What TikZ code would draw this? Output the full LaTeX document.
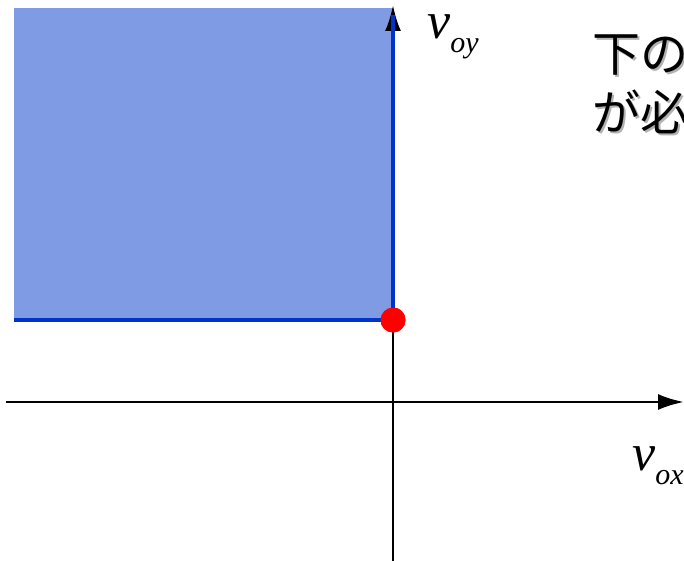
\documentclass[tikz,border=0pt]{standalone}
\usepackage{fontspec}
\setmainfont{Liberation Serif}
\newfontfamily\jpfont{Noto Sans CJK JP}
\usetikzlibrary{arrows.meta}
\definecolor{regionblue}{RGB}{127,155,227}
\definecolor{edgeblue}{RGB}{0,51,204}
\tikzset{
  vp/axis/.style={line width=1.4pt, -{Latex[length=13pt,width=8pt]}},
  vp/region/.style={fill=regionblue},
  vp/edge/.style={draw=edgeblue, line width=2pt},
  vp/point/.style={circle, fill=red, inner sep=0pt, minimum size=12.5pt},
  vp/label/.style={inner sep=0pt, anchor=base west, font=\fontsize{26}{26}\selectfont\itshape},
  vp/jp/.style={inner sep=0pt, anchor=base west, font=\fontsize{24}{24}\jpfont},
  vp/jpshadow/.style={vp/jp, text=black!30}
}
\newcommand{\velsub}[2]{#1\raisebox{-7pt}{\fontsize{15}{15}\selectfont #2}}

\begin{document}
\begin{tikzpicture}[x=0.5pt, y=-0.5pt]
  \useasboundingbox (0,0) rectangle (684,561);
  \coordinate (xs) at (6,402);
  \coordinate (xe) at (684,402);
  \coordinate (ys) at (393,561);
  \coordinate (ye) at (393,5);
  \coordinate (tl) at (14,8);
  \coordinate (left) at (14,320);
  \coordinate (top) at (393,15);
  \node[vp/point] (corner) at (393,320) {};

  % allowed region
  \fill[vp/region] (tl) rectangle (corner.center);
  \draw[vp/axis] (xs) -- (xe);
  \draw[vp/axis] (ys) -- (ye);
  \draw[vp/edge] (left) -- (corner.center) -- (top);
  \node[vp/point] at (corner) {};

  \node[vp/label] (vy) at (427,39) {\velsub{v}{oy}};
  \node[vp/label] (vx) at (632,470) {\velsub{v}{ox}};

  % clipped caption
  \node[vp/jpshadow] at (594,74) {下の};
  \node[vp/jp] (jp1) at (592,72) {下の};
  \node[vp/jpshadow] at (594,133) {が必};
  \node[vp/jp] (jp2) at (592,131) {が必};
\end{tikzpicture}
\end{document}
